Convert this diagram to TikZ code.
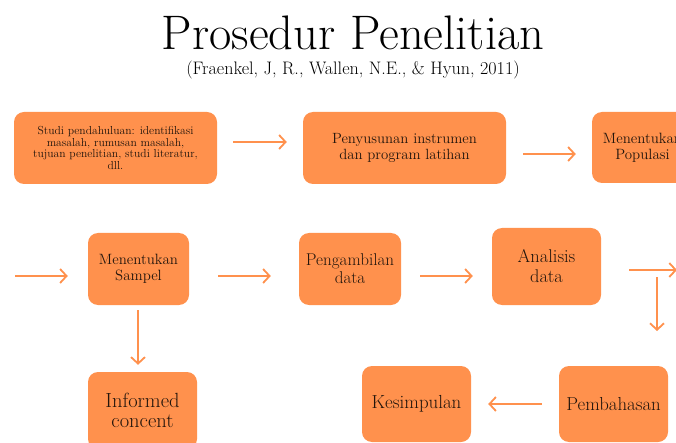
\documentclass[tikz,border=0pt]{standalone}
\usepackage{fontspec}
\usetikzlibrary{arrows.meta}
\definecolor{boxorange}{HTML}{FF914D}
\definecolor{txt}{HTML}{22150C}
\newcommand\bxf[2]{\fontsize{#1}{#2}\selectfont\addfontfeatures{FakeBold=0.6}}
\tikzset{
  box/.style={draw=none, fill=boxorange, rounded corners=10pt, align=center, text=txt, inner sep=0pt},
  arr/.style={draw=boxorange, line width=1.8pt, -{Straight Barb[length=6.5pt,width=14pt,line width=1.8pt]}},
}
\begin{document}
\begin{tikzpicture}[x=1pt,y=-1pt]
\useasboundingbox (0,0) rectangle (676,443);
\fill[white] (0,0) rectangle (676,443);
% title
\node[anchor=base, inner sep=0pt, text=black] (title) at (353,50) {\fontsize{48.5}{50}\selectfont Prosedur Penelitian};
\node[anchor=base, inner sep=0pt, text=black] (sub) at (353,75) {\fontsize{18.1}{20}\selectfont\addfontfeatures{FakeBold=0.3}(Fraenkel, J, R., Wallen, N.E., \& Hyun, 2011)};
% boxes
\node[box, minimum width=203pt, minimum height=72pt, font=\bxf{11.6}{11.8}] (b1) at (115.5,148) {Studi pendahuluan: identifikasi\\masalah, rumusan masalah,\\tujuan penelitian, studi literatur,\\dll.};
\node[box, minimum width=203pt, minimum height=72pt, font=\bxf{14.8}{15.5}] (b2) at (404.5,148) {Penyusunan instrumen\\dan program latihan};
\node[box, minimum width=101pt, minimum height=71pt, font=\bxf{14.9}{16}] (b3) at (642.5,147.5) {Menentukan\\Populasi};
\node[box, minimum width=101pt, minimum height=72pt, font=\bxf{14.9}{16}] (b4) at (138.5,269) {Menentukan\\Sampel};
\node[box, minimum width=102pt, minimum height=72pt, font=\bxf{17.1}{18}] (b5) at (350,269) {Pengambilan\\data};
\node[box, minimum width=109pt, minimum height=77pt, font=\bxf{18.4}{20}] (b6) at (546.5,266.5) {Analisis\\data};
\node[box, minimum width=109pt, minimum height=77pt, font=\bxf{20.5}{20}] (b7) at (142.5,410.5) {Informed\\concent};
\node[box, minimum width=109pt, minimum height=76pt, font=\bxf{18.9}{20}] (b8) at (416.5,404) {Kesimpulan};
\node[box, minimum width=109pt, minimum height=76pt, font=\bxf{18.8}{20}] (b9) at (613.5,404) {Pembahasan};
% free ends
\coordinate (in4) at (15,276);
\coordinate (out6) at (677,270);
\coordinate (dn6a) at (657,277);
\coordinate (dn6b) at (657,331);
% connectors
\draw[arr, shorten <=16pt, shorten >=16pt] ([yshift=6pt]b1.east) -- ([yshift=6pt]b2.west);
\draw[arr, shorten <=17pt, shorten >=16pt] ([yshift=-6pt]b2.east) -- ([yshift=-6.5pt]b3.west);
\draw[arr, shorten >=20pt] (in4) -- ([yshift=-7pt]b4.west);
\draw[arr, shorten <=29pt, shorten >=28pt] ([yshift=-7pt]b4.east) -- ([yshift=-7pt]b5.west);
\draw[arr, shorten <=19pt, shorten >=19pt] ([yshift=-7pt]b5.east) -- ([yshift=-9.5pt]b6.west);
\draw[arr, shorten <=28pt] ([yshift=-3.5pt]b6.east) -- (out6);
\draw[arr] (dn6a) -- (dn6b);
\draw[arr, shorten <=5pt, shorten >=7pt] ([xshift=-0.5pt]b4.south) -- ([xshift=-4.5pt]b7.north);
\draw[arr, shorten <=17pt, shorten >=17pt] (b9.west) -- (b8.east);
\end{tikzpicture}
\end{document}
